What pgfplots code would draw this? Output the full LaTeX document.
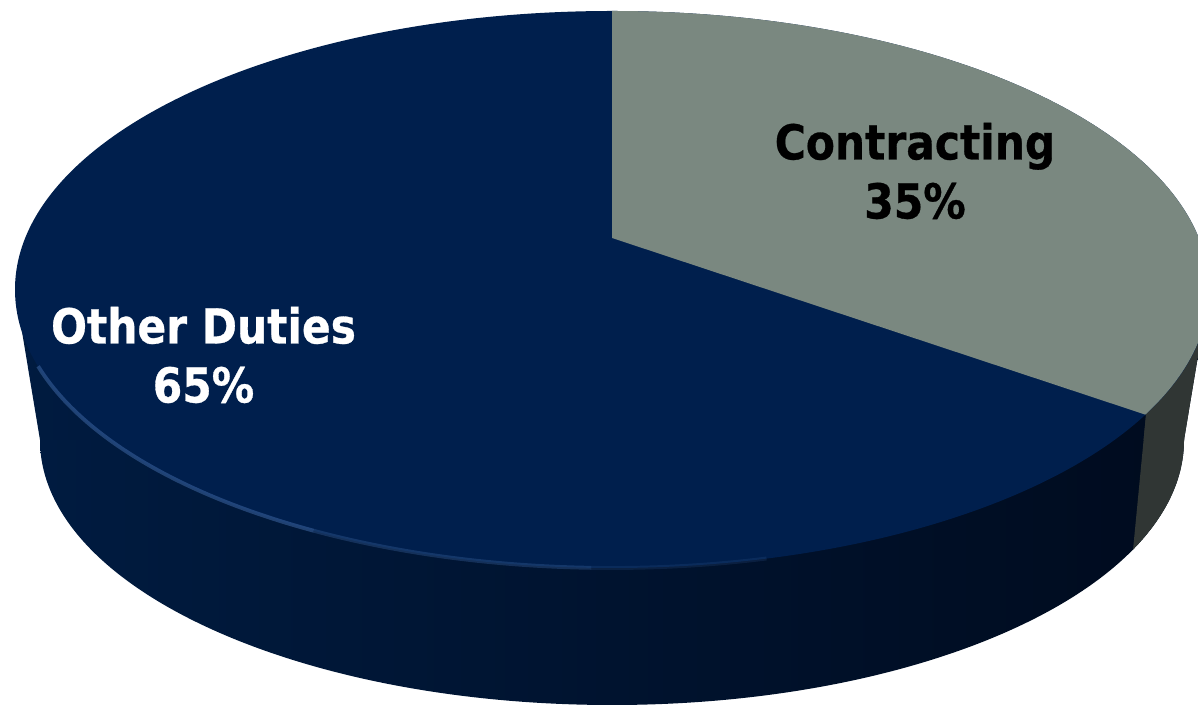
\documentclass[border=0pt]{standalone}
\usepackage{pgfplots}
\pgfplotsset{compat=1.18}
\usepackage{pgfplotstable}
\usetikzlibrary{calc}
\usepackage{fontspec}
\setmainfont{DejaVu Sans}
\newfontfamily\labelfont{DejaVu Sans Bold}[FakeStretch=0.88,FakeBold=0.6]

\definecolor{topblue}{RGB}{0,31,77}
\definecolor{sideblueL}{RGB}{0,27,64}
\definecolor{sideblueR}{RGB}{0,11,30}
\definecolor{topgrey}{RGB}{122,136,128}
\definecolor{sidegrey}{RGB}{48,54,52}
\definecolor{hl}{RGB}{60,100,160}

\pgfplotstableread{
label value
Contracting 35
OtherDuties 65
}\piedata

\begin{document}
\begin{tikzpicture}
\begin{axis}[
  name=pie,
  scale only axis,
  width=11.98cm, height=7.07cm,
  xmin=0, xmax=1198, ymin=0, ymax=707,
  axis lines=none,
  clip=true,
]
% side of the pie (union of bottom ellipse and silhouette quadrilateral)
\shade[left color=sideblueL, right color=sideblueR]
  (axis cs:612,267) ellipse [x radius=5.72cm, y radius=2.65cm];
\shade[left color=sideblueL, right color=sideblueR]
  (axis cs:15,417.5) -- (axis cs:40,267) -- (axis cs:1184,267) -- (axis cs:1209,417.5) -- cycle;
% grey part of the side
\begin{scope}
  \clip (axis cs:1146,600) -- (axis cs:1146,292) -- (axis cs:1133,157) -- (axis cs:1133,0)
        -- (axis cs:1198,0) -- (axis cs:1198,600) -- cycle;
  \fill[sidegrey] (axis cs:612,267) ellipse [x radius=5.72cm, y radius=2.65cm];
  \fill[sidegrey] (axis cs:15,417.5) -- (axis cs:40,267) -- (axis cs:1184,267) -- (axis cs:1209,417.5) -- cycle;
\end{scope}
% top face
\fill[topblue] (axis cs:612,417.5) ellipse [x radius=5.97cm, y radius=2.785cm];
\fill[topgrey] (axis cs:612,469) -- (axis cs:612,696)
  arc[start angle=90, end angle=-26.7, x radius=5.97cm, y radius=2.785cm] -- cycle;
% rim highlight
\draw[hl, line width=1.1pt, opacity=0.55] ($(axis cs:612,417.5)+(196:5.97cm and 2.785cm)$)
  arc[start angle=196, end angle=240, x radius=5.97cm, y radius=2.785cm];
\draw[hl, line width=1.1pt, opacity=0.35] ($(axis cs:612,417.5)+(240:5.97cm and 2.785cm)$)
  arc[start angle=240, end angle=268, x radius=5.97cm, y radius=2.785cm];
\draw[hl, line width=1.1pt, opacity=0.18] ($(axis cs:612,417.5)+(268:5.97cm and 2.785cm)$)
  arc[start angle=268, end angle=285, x radius=5.97cm, y radius=2.785cm];
% labels
\node[text=white, align=center, font=\labelfont\fontsize{13.7}{16.8}\selectfont]
  at (axis cs:203.5,352) {Other Duties\\65\%};
\node[text=black, align=center, font=\labelfont\fontsize{13.7}{16.8}\selectfont]
  at (axis cs:915,536) {Contracting\\35\%};
\end{axis}
\pgfresetboundingbox
\path[use as bounding box] (pie.south west) rectangle (pie.north east);
\end{tikzpicture}
\end{document}
